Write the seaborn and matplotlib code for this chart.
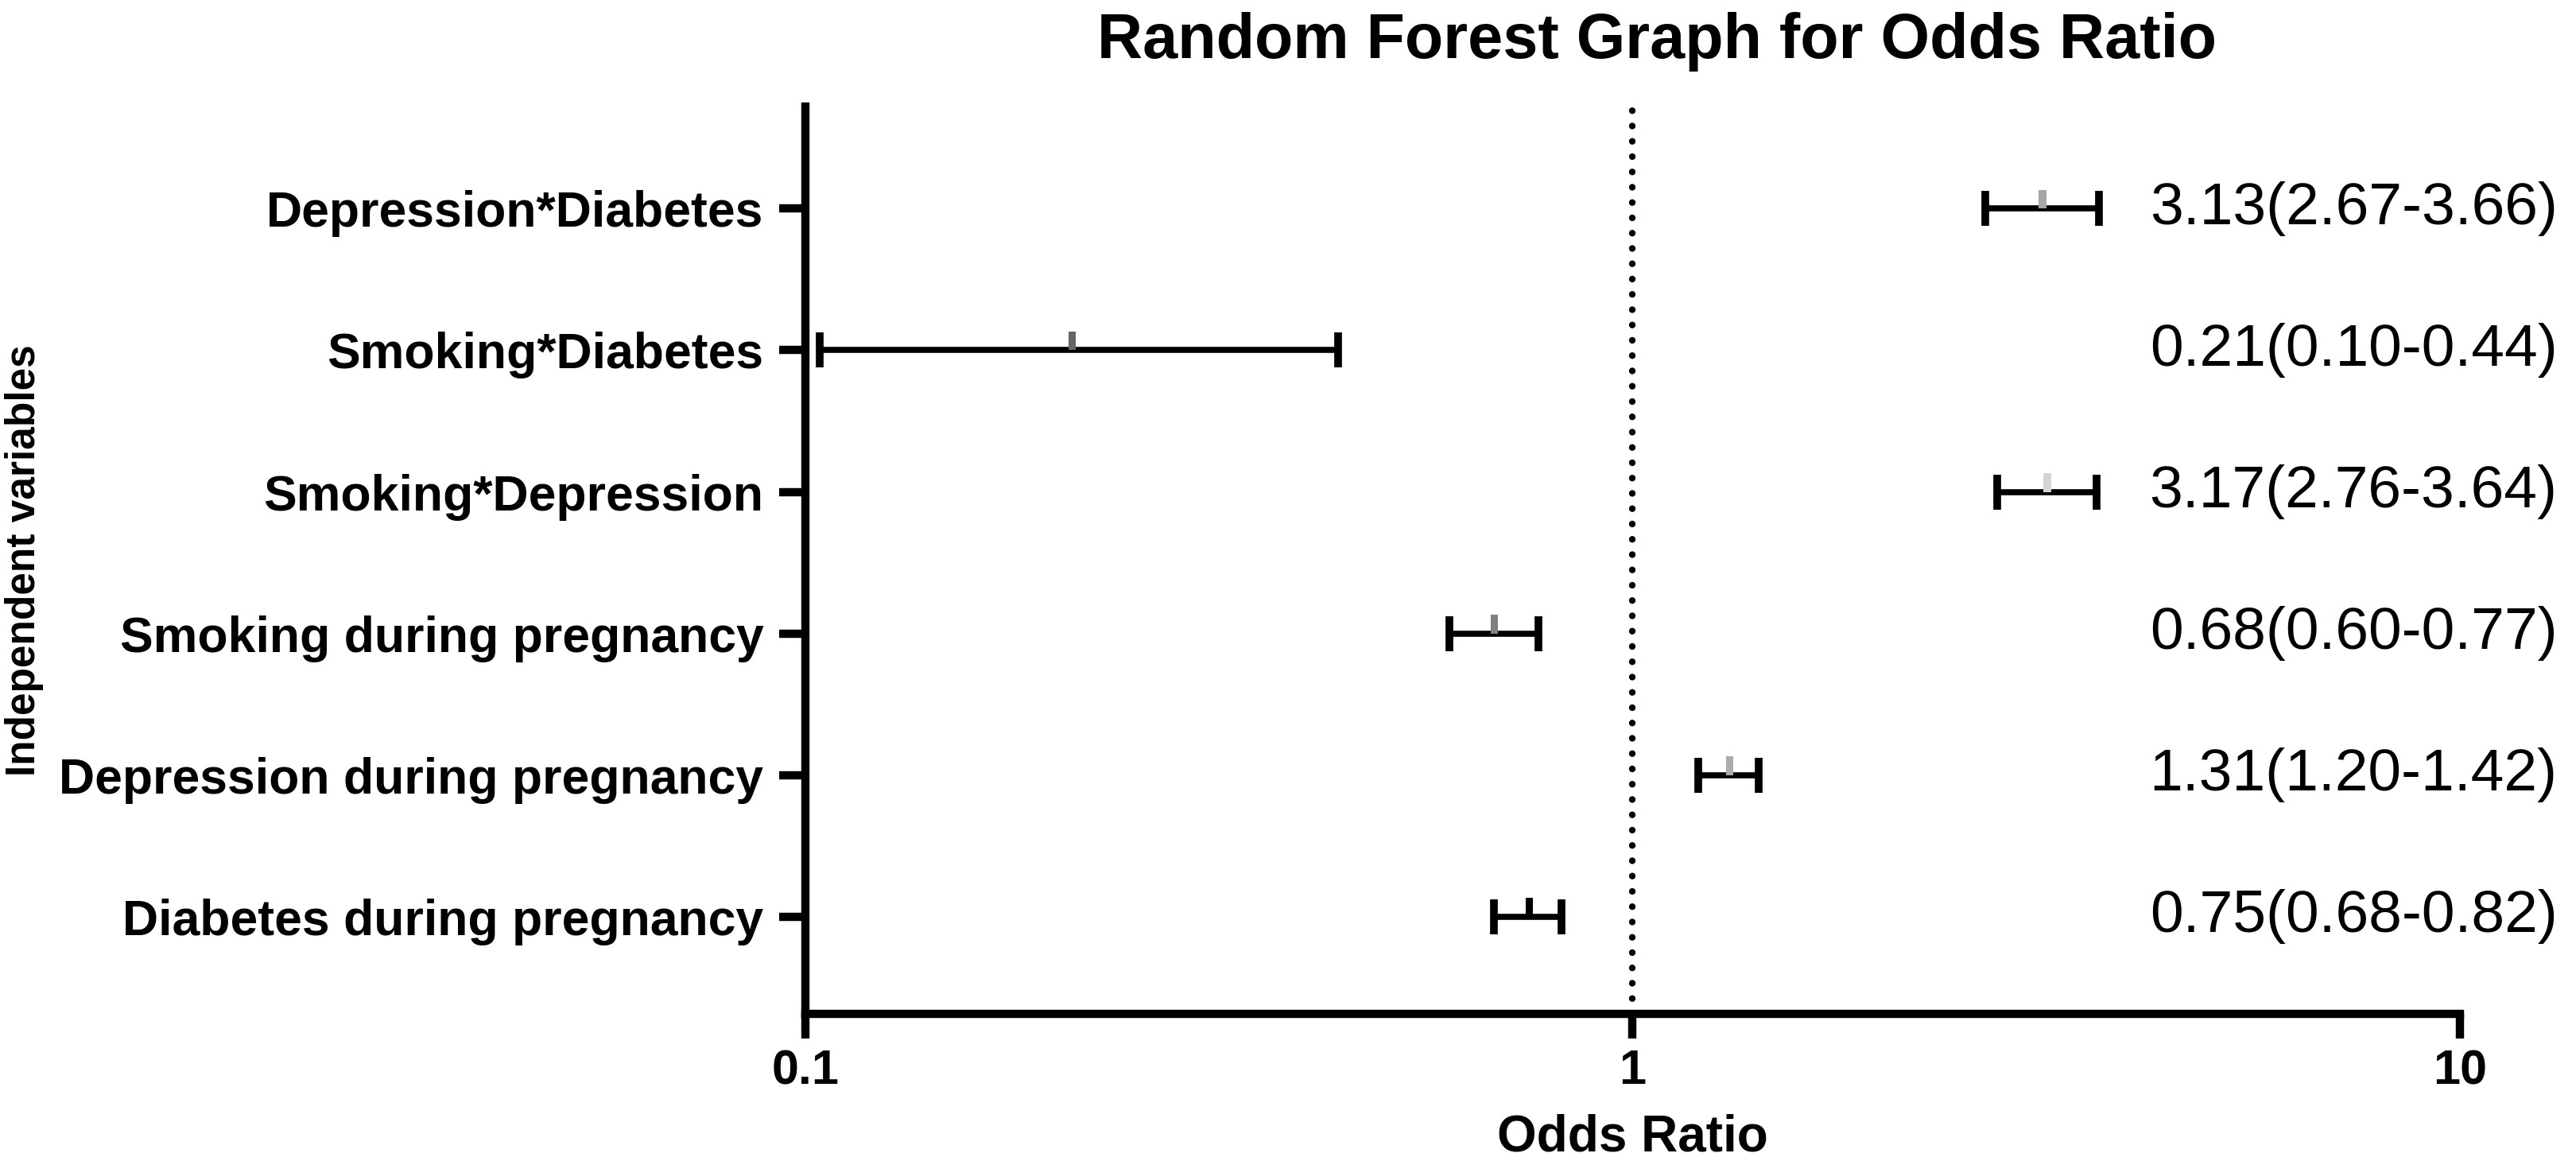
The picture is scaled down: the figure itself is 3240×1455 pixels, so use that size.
#forest plot of odds ratios with 95% CI
import numpy as np
import matplotlib
matplotlib.use("Agg")
import matplotlib.pyplot as plt
from matplotlib import font_manager
import seaborn as sns

variables = [
    "Depression*Diabetes",
    "Smoking*Diabetes",
    "Smoking*Depression",
    "Smoking during pregnancy",
    "Depression during pregnancy",
    "Diabetes during pregnancy",
]
odds_ratio = [3.13, 0.21, 3.17, 0.68, 1.31, 0.75]
ci_low = [2.67, 0.104, 2.76, 0.60, 1.20, 0.68]
ci_high = [3.66, 0.44, 3.64, 0.77, 1.42, 0.82]
marker_colors = ["#a6a6a6", "#666666", "#d4d4d4", "#808080", "#ababab", "#000000"]

sns.set_style("ticks")
plt.rcParams["font.family"] = ["Liberation Sans", "DejaVu Sans"]
for key in ["text.color", "axes.labelcolor", "xtick.color", "ytick.color", "axes.edgecolor"]:
    plt.rcParams[key] = "black"

installed = {f.name for f in font_manager.fontManager.ttflist}
narrow = "Liberation Sans Narrow" if "Liberation Sans Narrow" in installed else "Liberation Sans"

fig = plt.figure(figsize=(32.41, 14.55), dpi=100)
ax = fig.add_axes([0.3126, 0.1237, 0.642, 0.7842])

n = len(variables)
ypos = np.arange(n)[::-1]
orr = np.array(odds_ratio)
lo = np.array(ci_low)
hi = np.array(ci_high)

ax.errorbar(
    orr, ypos,
    xerr=[orr - lo, hi - orr],
    fmt="none",
    ecolor="black",
    elinewidth=5.5,
    capsize=16,
    capthick=7,
    zorder=2
)

# small upward tick for the point estimate
tick_marker = [(-0.2, 0), (0.2, 0), (0.2, 1), (-0.2, 1)]
sns.scatterplot(
    x=orr, y=ypos,
    hue=variables,
    palette=marker_colors,
    marker=tick_marker,
    s=34 ** 2,
    linewidth=0,
    legend=False,
    ax=ax,
    zorder=3
)

ax.axvline(1, color="black", lw=6, linestyle=(0, (0.01, 2.3)),
           dash_capstyle="round", zorder=1)

ax.set_xscale("log")
ax.set_xlim(0.1, 10)
ax.set_ylim(-0.685, n - 1 + 0.72)
ax.set_xticks([0.1, 1, 10])
ax.set_xticklabels(["0.1", "1", "10"])
ax.xaxis.set_minor_locator(matplotlib.ticker.NullLocator())
ax.set_yticks(ypos)
ax.set_yticklabels(variables)

for lab in ax.get_yticklabels():
    lab.set_fontweight("bold")
    lab.set_fontsize(45)
for lab in ax.get_xticklabels():
    lab.set_fontweight("bold")
    lab.set_fontsize(44)

ax.tick_params(axis="y", length=24, width=7.5, pad=14)
ax.tick_params(axis="x", length=22, width=7.5, pad=10)

sns.despine(ax=ax)
ax.spines["left"].set_linewidth(7.5)
ax.spines["bottom"].set_linewidth(7.5)

for y, o, l, h in zip(ypos, odds_ratio, ci_low, ci_high):
    ax.text(1.059, y, f"{o:.2f}({l:.2f}-{h:.2f})",
            transform=ax.get_yaxis_transform(),
            ha="right", va="center", fontsize=54, clip_on=False)

ax.set_xlabel("Odds Ratio", fontsize=46, fontweight="bold")
ax.xaxis.set_label_coords(0.5, -0.11)
fig.text(0.0095, 0.1237 + 0.7842 / 2, "Independent variables",
         rotation=90, ha="center", va="center", fontsize=42 if narrow != "Liberation Sans" else 37,
         fontweight="bold", family=[narrow, "DejaVu Sans"])

fig.text(0.643, 0.99, "Random Forest Graph for Odds Ratio",
         ha="center", va="top", fontsize=57, fontweight="bold")

plt.savefig("out.png", dpi=100)
plt.close()
